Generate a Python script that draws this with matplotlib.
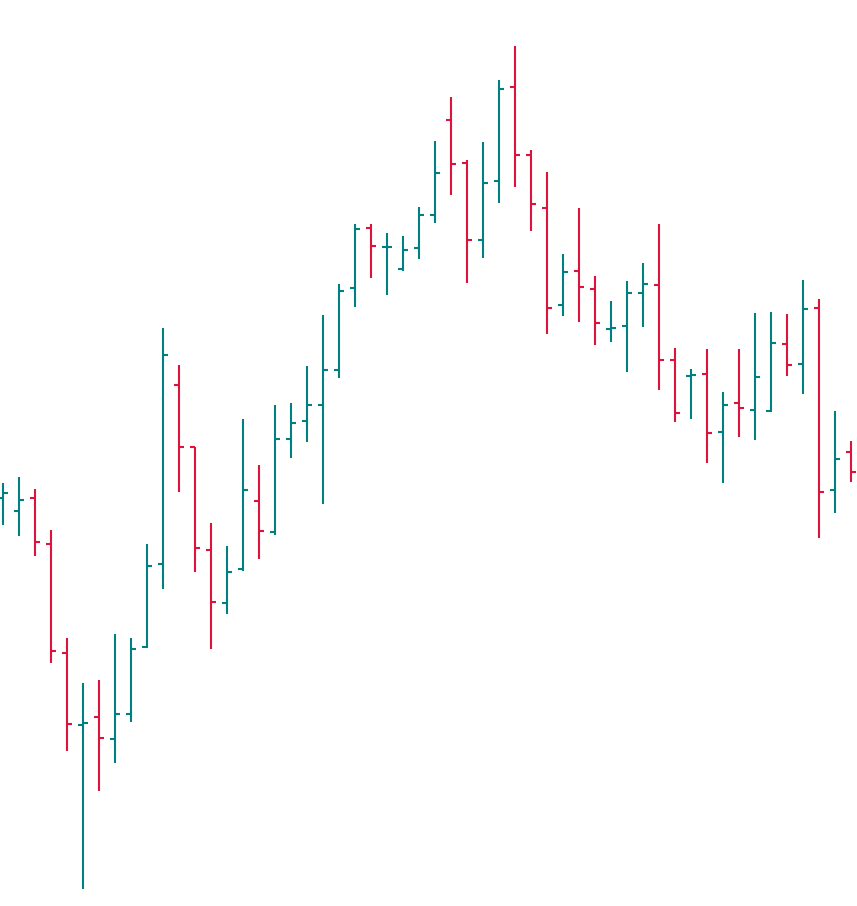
import matplotlib
matplotlib.use("Agg")
import matplotlib.pyplot as plt

# OHLC values (arbitrary price units)
opens = [40.8, 39.5, 40.8, 36.2, 25.3, 18.1, 18.9, 16.7, 19.2, 25.9,
         34.2, 52.1, 45.9, 35.6, 30.3, 33.7, 40.5, 37.4, 46.7, 48.5,
         50.1, 53.6, 61.8, 67.8, 65.9, 63.7, 65.8, 69.1, 78.6, 74.3,
         66.6, 72.5, 81.9, 75.1, 69.8, 60.1, 63.5, 61.7, 57.7, 58.0,
         61.3, 62.1, 54.6, 53.0, 53.2, 47.4, 50.3, 49.6, 49.5, 56.2,
         54.2, 59.8, 41.6, 45.4]
highs = [42.3, 42.9, 41.7, 37.6, 26.8, 22.3, 22.6, 27.2, 26.8, 36.2,
         57.8, 54.1, 45.9, 38.3, 36.0, 48.7, 44.1, 50.1, 50.3, 54.0,
         59.1, 62.2, 68.2, 68.2, 67.3, 67.0, 69.9, 76.5, 80.9, 74.6,
         76.4, 82.6, 86.0, 75.6, 73.4, 65.2, 69.8, 63.0, 60.5, 62.5,
         64.3, 68.2, 55.8, 53.7, 55.7, 51.4, 55.7, 59.3, 59.4, 59.2,
         62.6, 60.7, 49.5, 46.5]
lows = [38.1, 37.0, 35.0, 24.3, 15.5, 1.7, 11.5, 14.3, 18.4, 25.8,
        31.7, 41.4, 33.4, 25.7, 29.2, 33.5, 34.7, 37.1, 44.8, 46.4,
        40.2, 52.8, 59.9, 62.8, 61.1, 63.5, 64.7, 68.3, 71.1, 62.3,
        64.8, 70.3, 71.9, 67.5, 57.2, 59.0, 58.4, 56.1, 56.4, 53.4,
        57.9, 51.6, 48.4, 48.7, 44.3, 42.3, 46.9, 46.6, 49.4, 53.0,
        51.2, 36.8, 39.3, 42.4]
closes = [41.3, 40.6, 36.4, 25.5, 18.2, 18.3, 16.8, 19.2, 25.7, 34.0,
          55.1, 45.9, 35.8, 30.4, 33.4, 41.6, 37.5, 46.7, 48.3, 50.1,
          53.6, 61.5, 67.7, 66.0, 65.9, 65.6, 69.1, 73.3, 74.2, 66.6,
          72.3, 81.7, 75.1, 70.2, 59.8, 63.4, 61.9, 58.3, 57.8, 61.3,
          62.2, 54.6, 49.3, 53.1, 47.3, 50.1, 49.8, 52.9, 56.3, 54.1,
          59.7, 41.4, 44.7, 43.4]

up_color = "#008080"
down_color = "#DC143C"

fig = plt.figure(figsize=(8.57, 9.06), dpi=100)
ax = fig.add_axes([0, 0, 1, 1])

x = list(range(len(opens)))
colors = [up_color if c >= o else down_color for o, c in zip(opens, closes)]
tick = 0.32

ax.vlines(x, lows, highs, colors=colors, linewidth=1.5)
ax.hlines(opens, [i - tick for i in x], x, colors=colors, linewidth=1.5)
ax.hlines(closes, x, [i + tick for i in x], colors=colors, linewidth=1.5)

ax.set_xlim(-0.1875, 53.375)
ax.set_ylim(0, 90.6)
ax.axis("off")

fig.savefig("out.png", dpi=100, facecolor="white")
